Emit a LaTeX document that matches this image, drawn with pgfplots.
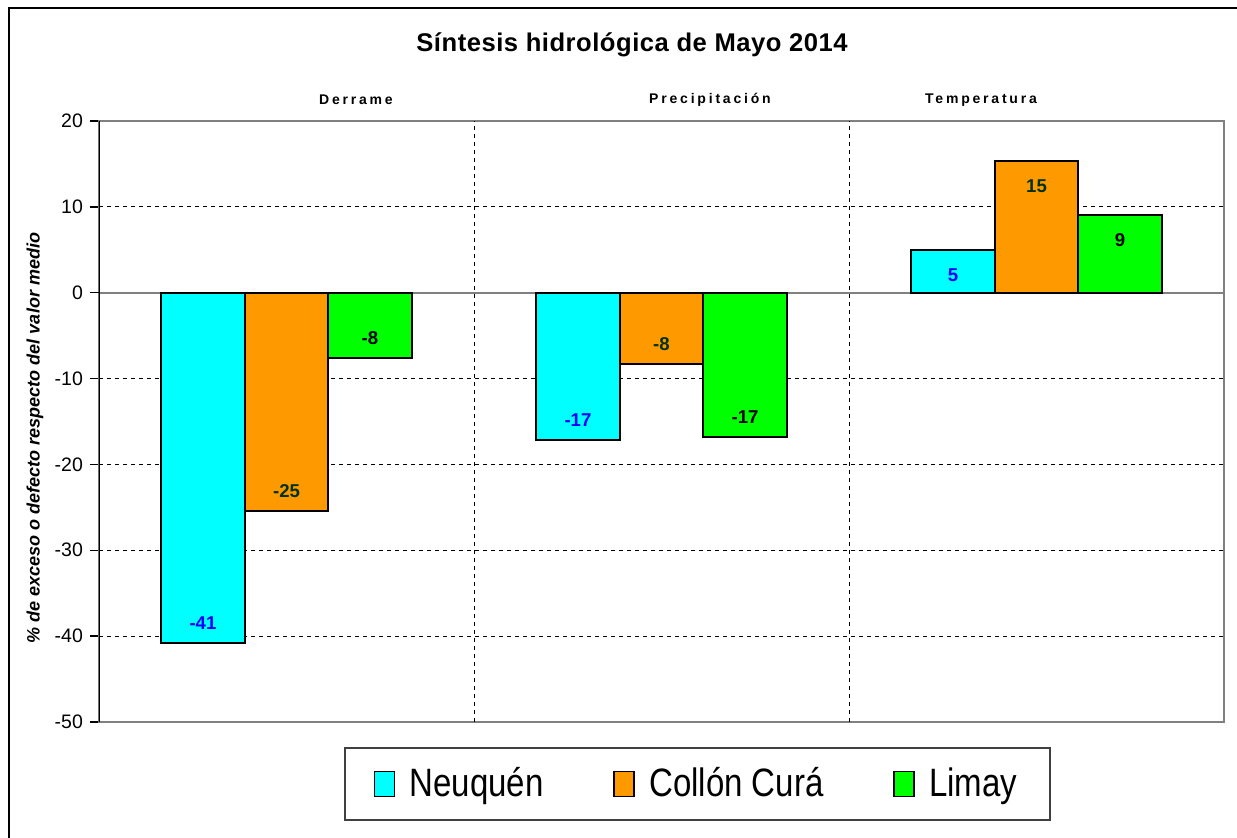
\documentclass[border=0pt]{standalone}
\usepackage{fontspec}
\setmainfont{Liberation Sans}
\usepackage{pgfplots}
\pgfplotsset{compat=1.18}
\definecolor{cNeu}{HTML}{00FFFF}
\definecolor{cCol}{HTML}{FF9900}
\definecolor{cLim}{HTML}{00FF00}
\definecolor{lNeu}{HTML}{0000FF}
\definecolor{lCol}{HTML}{003300}
\definecolor{axgray}{HTML}{808080}
\begin{document}
\begin{tikzpicture}
\path[use as bounding box] (0,0) rectangle (618.5pt,419pt);
\draw[line width=1pt] (4.5pt,-1pt) -- (4.5pt,415pt) -- (620pt,415pt);
\begin{axis}[
  at={(49.5pt,58pt)}, anchor=south west,
  width=562.5pt, height=300.5pt, scale only axis,
  xmin=-0.5, xmax=2.5, ymin=-50, ymax=20,
  ytick={-50,-40,...,20},
  xtick=\empty,
  extra x ticks={0.5,1.5}, extra x tick labels={},
  extra x tick style={major tick length=0pt, grid=major,
     major grid style={black, line width=0.5pt, dash pattern=on 2pt off 2pt}},
  extra y ticks={0}, extra y tick labels={},
  extra y tick style={grid=major, major grid style={solid, axgray, line width=1pt}},
  ymajorgrids,
  major grid style={black, line width=0.5pt, dash pattern=on 2pt off 2pt},
  axis line style={axgray, line width=1pt},
  ytick pos=left, tick align=outside, major tick length=4.5pt,
  tick style={black, line width=0.75pt},
  yticklabel style={font=\fontsize{9.75}{11}\selectfont},
  /pgf/number format/assume math mode=true,
  ylabel={\bfseries\itshape \% de exceso o defecto respecto del valor medio},
  ylabel style={at={(rel axis cs:-0.0569,0.4725)}, anchor=center, font=\fontsize{9}{10}\selectfont},
  ybar, bar width=0.2227,
  point meta=y,
  visualization depends on={y \as \rawy},
  nodes near coords={\pgfmathprintnumber[fixed,precision=0]{\pgfplotspointmeta}},
  every node near coord/.append style={font=\bfseries\fontsize{9.3}{10}\selectfont, anchor=center,
     yshift={ifthenelse(\rawy<0,10,-12.5)}},
  legend style={at={(0.532,-0.103)}, anchor=center, draw=black!75, line width=0.75pt,
     font=\fontsize{16.5}{19}\selectfont, legend columns=3,
     /tikz/every even column/.append style={column sep=33pt},
     inner xsep=14.5pt, inner ysep=8pt},
  legend image code/.code={\draw[#1, line width=0.75pt] (0pt,-6.25pt) rectangle (10pt,6.25pt); \path (15pt,0pt);},
]
\addplot[fill=cNeu, draw=black, line width=1pt, bar shift=-0.2227,
  every node near coord/.append style={text=lNeu}]
  coordinates {(0,-40.8) (1,-17.2) (2,5.0)};
\addplot[fill=cCol, draw=black, line width=1pt, bar shift=0,
  every node near coord/.append style={text=lCol}]
  coordinates {(0,-25.4) (1,-8.3) (2,15.3)};
\addplot[fill=cLim, draw=black, line width=1pt, bar shift=0.2227,
  every node near coord/.append style={text=black}]
  coordinates {(0,-7.6) (1,-16.8) (2,9.0)};
\legend{\scalebox{1}[1.2]{Neuquén}, \scalebox{1}[1.2]{Collón Curá}, \scalebox{1}[1.2]{Limay}}
\draw[black, line width=1pt] (rel axis cs:0,0) -- (rel axis cs:0,1);
\end{axis}
\node[font=\bfseries\fontsize{12.8}{15}\selectfont\addfontfeature{LetterSpace=2}] at (316pt,396.5pt) {Síntesis hidrológica de Mayo 2014};
\node[font=\bfseries\fontsize{7}{8}\selectfont\addfontfeature{LetterSpace=20}] at (178pt,369pt) {Derrame};
\node[font=\bfseries\fontsize{7}{8}\selectfont\addfontfeature{LetterSpace=20}] at (355pt,369pt) {Precipitación};
\node[font=\bfseries\fontsize{7}{8}\selectfont\addfontfeature{LetterSpace=20}] at (490.5pt,369pt) {Temperatura};
\end{tikzpicture}
\end{document}
